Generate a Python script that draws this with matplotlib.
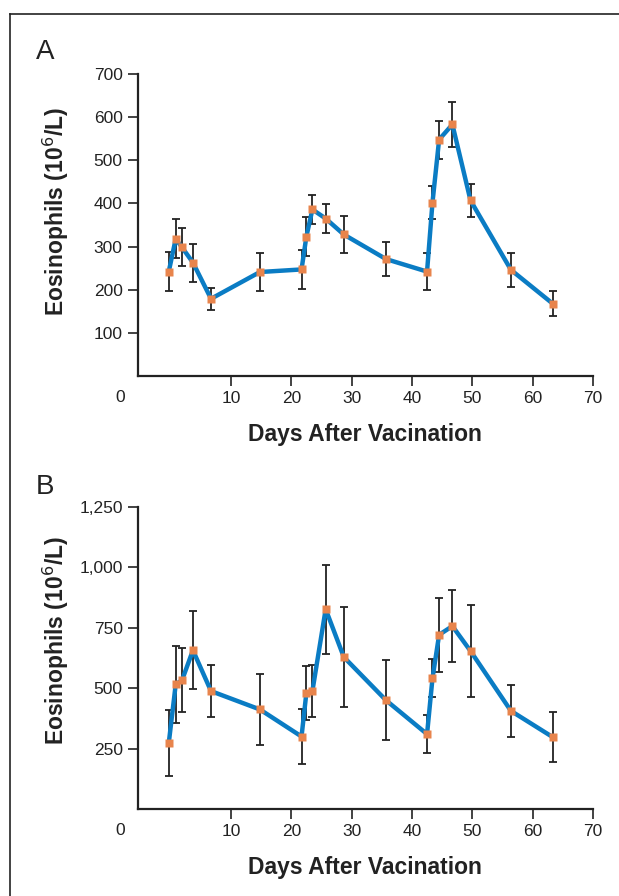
import numpy as np
import matplotlib.pyplot as plt
from matplotlib.lines import Line2D

# days (same sampling days in both panels)
days = [-0.3, 0.85, 1.9, 3.7, 6.7, 14.8, 21.7, 22.5, 23.5, 25.7, 28.7,
        35.7, 42.5, 43.4, 44.5, 46.7, 49.7, 56.4, 63.3]

# panel A
eos_a = [242, 318, 298, 263, 179, 241, 247, 323, 386, 365, 328,
         271, 242, 402, 548, 583, 407, 246, 168]
err_a = [46, 45, 44, 44, 26, 44, 45, 46, 34, 34, 44,
         39, 42, 39, 44, 53, 39, 40, 29]

# panel B
eos_b = [273, 516, 533, 657, 488, 412, 300, 480, 488, 827, 629,
         450, 310, 541, 721, 757, 654, 406, 298]
err_b = [135, 158, 133, 162, 107, 148, 115, 110, 108, 185, 208,
         165, 78, 79, 154, 150, 190, 107, 102]

ticks_a = [100, 200, 300, 400, 500, 600, 700]
labels_a = ['100', '200', '300', '400', '500', '600', '700']
ticks_b = [250, 500, 750, 1000, 1250]
labels_b = ['250', '500', '750', '1,000', '1,250']
xticks = [10, 20, 30, 40, 50, 60, 70]

plt.rcParams['font.family'] = ['Liberation Sans', 'DejaVu Sans']
ink = '#222222'
line_col = '#0a7cc4'
mark_col = '#e8844c'
lab_font = dict(family=['Liberation Sans Narrow', 'Liberation Sans', 'DejaVu Sans'],
                weight='bold', size=16.5, color=ink)

fig = plt.figure(figsize=(6.19, 8.96), dpi=100)

# thin frame round the figure (left and top edges show)
fig.add_artist(Line2D([10/619, 10/619], [0, 1 - 14/896], transform=fig.transFigure,
                      color=ink, lw=1.2))
fig.add_artist(Line2D([10/619, 1], [1 - 14/896, 1 - 14/896], transform=fig.transFigure,
                      color=ink, lw=1.2))

l, r = 138/619, 593/619
#          bottom px, top px, values, errors, yticks, labels, ymax, letter, letter y, ylabel y
panels = [(376, 74, eos_a, err_a, ticks_a, labels_a, 700, 'A', 52, 212),
          (809, 507, eos_b, err_b, ticks_b, labels_b, 1250, 'B', 487, 641)]

for bpx, tpx, vals, errs, yt, ylabs, ymax, letter, ly, ylc in panels:
    ax = fig.add_axes([l, 1 - bpx/896, r - l, (bpx - tpx)/896])
    ax.errorbar(days, vals, yerr=errs, fmt='none', ecolor=ink,
                elinewidth=1.3, capsize=3.2, capthick=1.3, zorder=2)
    ax.plot(days, vals, '-', color=line_col, lw=3.2, zorder=3)
    ax.plot(days, vals, 's', color=mark_col, ms=5.5, mec='none', zorder=4)
    ax.set_xlim(-5.4, 70)
    ax.set_ylim(0, ymax)
    ax.set_xticks(xticks)
    ax.set_yticks(yt)
    ax.set_yticklabels(ylabs)
    for s in ['top', 'right']:
        ax.spines[s].set_visible(False)
    for s in ['left', 'bottom']:
        ax.spines[s].set_linewidth(1.6)
        ax.spines[s].set_color(ink)
    ax.tick_params(direction='out', length=7, width=1.2, color=ink,
                   labelsize=12.5, labelcolor=ink, pad=4)
    # the lone "0" at the corner
    fig.text(120/619, 1 - (bpx + 21)/896, '0', ha='center', va='center',
             fontsize=12.5, color=ink)
    fig.text(365/619, 1 - (bpx + 58)/896, 'Days After Vacination',
             ha='center', va='center', **lab_font)
    fig.text(56/619, 1 - ylc/896, 'Eosinophils (10$^6$/L)', rotation=90,
             ha='center', va='center', **lab_font)
    fig.text(45/619, 1 - ly/896, letter, ha='center', va='center',
             fontsize=20, color=ink)

fig.savefig('out.png', dpi=100)
